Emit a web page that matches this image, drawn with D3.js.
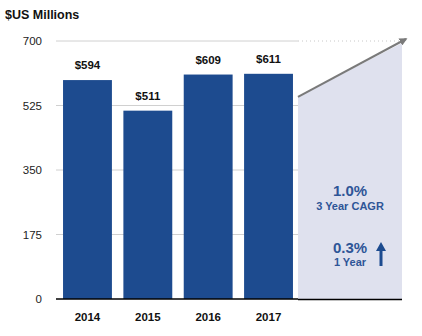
<!DOCTYPE html>
<html><head><meta charset="utf-8">
<script src="https://cdn.jsdelivr.net/npm/d3@7"></script>
<style>body{margin:0;background:#fff}svg{display:block}text{font-family:"Liberation Sans",Arial,sans-serif}</style>
</head><body>
<script>
const years = ["2014","2015","2016","2017"];
const values = [594, 511, 609, 611];
const valueLabels = ["$594","$511","$609","$611"];
const yTicks = [0, 175, 350, 525, 700];
const cagrText = ["1.0%", "3 Year CAGR"];
const oneYearText = ["0.3%", "1 Year"];
const unitTitle = "$US Millions";

const W = 422, H = 336;
const svg = d3.select("body").append("svg").attr("width", W).attr("height", H);

const plotL = 56, plotR = 298, y0 = 299, yTop = 41;
const y = d3.scaleLinear().domain([0, 700]).range([y0, yTop]);
const x = d3.scaleBand().domain(years).range([plotL + 1, plotR + 1]).paddingInner(0.19).paddingOuter(0.1);

const blue = "#1d4b8f", textBlue = "#2e5597";

// title
svg.append("text").attr("x", 5).attr("y", 19).attr("font-size", 12.5).attr("font-weight", "bold").attr("fill", "#111").text(unitTitle);

// grid
svg.append("g").selectAll("line").data(yTicks.filter(d => d > 0)).join("line")
  .attr("x1", plotL).attr("x2", plotR).attr("y1", d => y(d)).attr("y2", d => y(d))
  .attr("stroke", "#d0d0d0").attr("stroke-width", 1);

// y axis labels
const yAxis = d3.axisLeft(y).tickValues(yTicks).tickSize(0).tickPadding(0);
const ya = svg.append("g").attr("transform", `translate(42,0)`).call(yAxis);
ya.select(".domain").remove();
ya.selectAll("text").attr("font-size", 11.5).attr("fill", "#222").attr("font-family", "Liberation Sans, Arial, sans-serif");

// shaded region
const sx0 = 298, sx1 = 402;
const gLeft = values[values.length - 1];
const aY0 = y(gLeft) + 23, aY1 = y(700);
svg.append("path")
  .attr("d", `M${sx0},${y0} L${sx0},${aY0} L${sx1},${aY1 + 2} L${sx1},${y0} Z`)
  .attr("fill", "#dfe1ee");

// dotted line at top
svg.append("line").attr("x1", plotR).attr("x2", 400).attr("y1", y(700)).attr("y2", y(700))
  .attr("stroke", "#c8c8c8").attr("stroke-width", 1).attr("stroke-dasharray", "1,3");

// arrow
svg.append("defs").append("marker").attr("id", "ah").attr("viewBox", "0 0 10 10")
  .attr("refX", 8).attr("refY", 5).attr("markerWidth", 4).attr("markerHeight", 4).attr("orient", "auto")
  .append("path").attr("d", "M0,0 L10,5 L0,10 Z").attr("fill", "#7a7a7a");
svg.append("line").attr("x1", sx0).attr("y1", aY0).attr("x2", 406).attr("y2", aY1 - 2)
  .attr("stroke", "#7a7a7a").attr("stroke-width", 2).attr("marker-end", "url(#ah)");

// bars
svg.append("g").selectAll("rect").data(values).join("rect")
  .attr("x", (d, i) => x(years[i])).attr("width", x.bandwidth())
  .attr("y", d => y(d)).attr("height", d => y0 - y(d)).attr("fill", blue);

// value labels
svg.append("g").selectAll("text").data(values).join("text")
  .attr("x", (d, i) => x(years[i]) + x.bandwidth() / 2).attr("y", d => y(d) - 11)
  .attr("text-anchor", "middle").attr("font-size", 11.5).attr("font-weight", "bold").attr("fill", "#111")
  .text((d, i) => valueLabels[i]);

// baseline
svg.append("line").attr("x1", plotL).attr("x2", sx0).attr("y1", y0).attr("y2", y0).attr("stroke", "#000").attr("stroke-width", 1.5);
svg.append("line").attr("x1", sx0).attr("x2", sx1).attr("y1", y0 + 0.5).attr("y2", y0 + 0.5).attr("stroke", "#000").attr("stroke-width", 1.5);

// x labels
const xAxis = d3.axisBottom(x).tickSize(0).tickPadding(0);
const xa = svg.append("g").attr("transform", `translate(0,${y0 + 14})`).call(xAxis);
xa.select(".domain").remove();
xa.selectAll("text").attr("font-size", 11.5).attr("font-weight", "bold").attr("fill", "#111").attr("font-family", "Liberation Sans, Arial, sans-serif");

// CAGR text
svg.append("text").attr("x", 350).attr("y", 196).attr("text-anchor", "middle").attr("font-size", 15).attr("font-weight", "bold").attr("fill", textBlue).text(cagrText[0]);
svg.append("text").attr("x", 350).attr("y", 210).attr("text-anchor", "middle").attr("font-size", 11).attr("font-weight", "bold").attr("fill", textBlue).text(cagrText[1]);
svg.append("text").attr("x", 350).attr("y", 253).attr("text-anchor", "middle").attr("font-size", 15).attr("font-weight", "bold").attr("fill", textBlue).text(oneYearText[0]);
svg.append("text").attr("x", 350).attr("y", 266).attr("text-anchor", "middle").attr("font-size", 11).attr("font-weight", "bold").attr("fill", textBlue).text(oneYearText[1]);

// up arrow
svg.append("path").attr("d", "M381,242 L386,251 L382.5,251 L382.5,266 L379.5,266 L379.5,251 L376,251 Z").attr("fill", "#1d4b8f");
</script>
</body></html>
